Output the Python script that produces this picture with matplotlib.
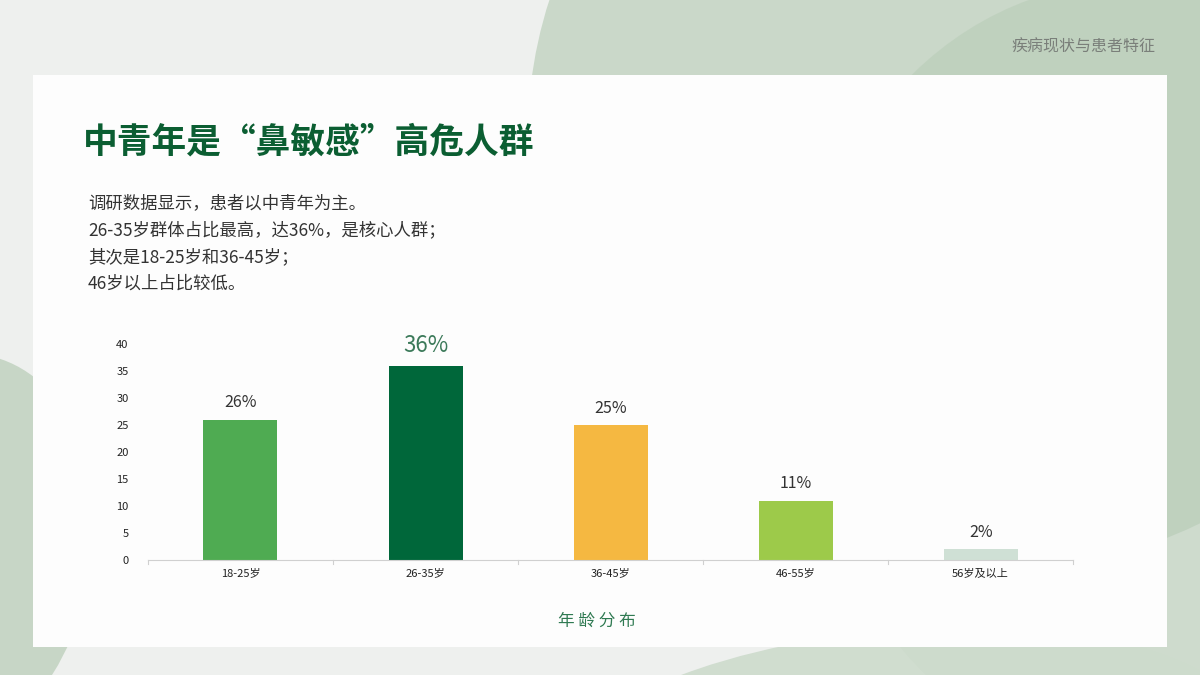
import matplotlib.pyplot as plt
from matplotlib.patches import Ellipse, Rectangle

plt.rcParams['font.family'] = ['Noto Sans CJK SC', 'DejaVu Sans']

# data
age_groups = ["18-25岁", "26-35岁", "36-45岁", "46-55岁", "56岁及以上"]
share = [26, 36, 25, 11, 2]
share_labels = ["26%", "36%", "25%", "11%", "2%"]
bar_colors = ["#4fab52", "#00673a", "#f5b841", "#9dca4a", "#cfe0d5"]
y_ticks = [0, 5, 10, 15, 20, 25, 30, 35, 40]

title = "中青年是“鼻敏感”高危人群"
body_lines = [
    "调研数据显示，患者以中青年为主。",
    "26-35岁群体占比最高，达36%，是核心人群；",
    "其次是18-25岁和36-45岁；",
    "46岁以上占比较低。",
]

fig = plt.figure(figsize=(12, 6.75), dpi=100)
fig.patch.set_facecolor("#eef0ee")

# background decoration
bg = fig.add_axes([0, 0, 1, 1])
bg.set_xlim(0, 1200)
bg.set_ylim(675, 0)
bg.axis("off")
bg.add_patch(Ellipse((1000, 120), 950, 900, angle=-20, color="#c6d6c5", alpha=0.9, lw=0))
bg.add_patch(Ellipse((1150, 380), 700, 800, angle=-10, color="#b9cdb8", alpha=0.6, lw=0))
bg.add_patch(Ellipse((-60, 560), 300, 420, angle=15, color="#c3d4c2", alpha=0.9, lw=0))
bg.add_patch(Ellipse((900, 760), 700, 260, angle=-5, color="#cddbcc", alpha=0.9, lw=0))
bg.add_patch(Rectangle((33, 75), 1134, 572, color="#fdfdfd", lw=0))

bg.text(1155, 47, "疾病现状与患者特征", ha="right", va="center", fontsize=11.5, color="#7a7f7a")
bg.text(83, 142, title, ha="left", va="center", fontsize=25, fontweight="bold", color="#0b5e32")
for i, line in enumerate(body_lines):
    bg.text(88, 203 + i * 27, line, ha="left", va="center", fontsize=12.5, color="#333333")
bg.text(597, 621, "年 龄 分 布", ha="center", va="center", fontsize=12, color="#2f7a52")

# chart
ax = fig.add_axes([0.1233, 0.1704, 0.771, 0.32])
ax.patch.set_alpha(0)
x = range(len(age_groups))
ax.bar(x, share, width=0.4, color=bar_colors)
ax.set_xlim(-0.5, len(age_groups) - 0.5)
ax.set_ylim(0, 40)
ax.set_yticks(y_ticks)
ax.set_xticks(list(x))
ax.set_xticklabels(age_groups, fontsize=8, color="#222222", fontweight="medium")
ax.tick_params(axis="y", labelsize=8, colors="#222222", length=0, pad=14)
for lab in ax.get_yticklabels():
    lab.set_fontweight("medium")
ax.tick_params(axis="x", length=0, pad=6)
for side in ["top", "right", "left"]:
    ax.spines[side].set_visible(False)
ax.spines["bottom"].set_color("#d0d0d0")
for b in [-0.5, 0.5, 1.5, 2.5, 3.5, 4.5]:
    ax.plot([b, b], [0, -0.8], color="#d0d0d0", lw=0.8, clip_on=False)

for i, (v, lab) in enumerate(zip(share, share_labels)):
    if i == 1:
        ax.text(i, v + 1.5, lab, ha="center", va="bottom", fontsize=16, color="#3c7a5a")
    else:
        ax.text(i, v + 1.5, lab, ha="center", va="bottom", fontsize=11.5, color="#333333")

fig.savefig("out.png", dpi=100, facecolor=fig.get_facecolor())
